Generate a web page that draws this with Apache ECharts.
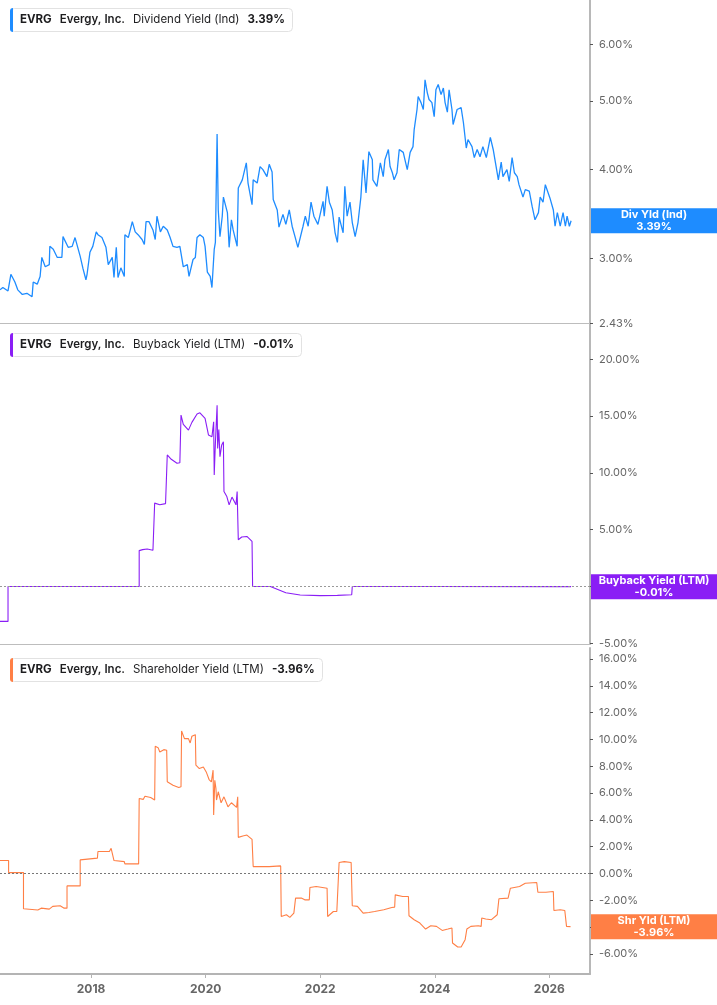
<!DOCTYPE html>
<html>
<head>
<meta charset="utf-8">
<script src="https://cdn.jsdelivr.net/npm/echarts@6/dist/echarts.min.js"></script>
<style>
  html, body { margin: 0; padding: 0; background: #fff; }
  #chart { width: 717px; height: 1005px; }
</style>
</head>
<body>
<div id="chart"></div>
<script>
// x = decimal year, y = percent
const divYield = [
  [2016.41,2.71],[2016.46,2.73],[2016.55,2.70],[2016.60,2.85],[2016.67,2.78],[2016.72,2.71],[2016.80,2.67],
  [2016.88,2.68],[2016.97,2.65],[2016.99,2.78],[2017.06,2.76],[2017.11,2.83],[2017.14,3.01],[2017.20,2.92],
  [2017.27,2.94],[2017.28,3.12],[2017.34,3.09],[2017.41,3.01],[2017.49,3.01],[2017.51,3.22],[2017.60,3.11],
  [2017.67,3.12],[2017.72,3.21],[2017.81,3.02],[2017.86,2.90],[2017.91,2.80],[2017.93,2.85],[2017.98,3.06],
  [2018.03,3.12],[2018.09,3.27],[2018.12,3.24],[2018.19,3.21],[2018.26,3.11],[2018.30,2.94],[2018.37,3.01],
  [2018.40,2.82],[2018.44,3.11],[2018.47,2.82],[2018.52,2.91],[2018.58,2.83],[2018.59,3.24],[2018.65,3.21],
  [2018.72,3.38],[2018.77,3.27],[2018.82,3.24],[2018.89,3.19],[2018.93,3.14],[2018.96,3.38],[2019.01,3.38],
  [2019.08,3.29],[2019.12,3.19],[2019.15,3.44],[2019.21,3.27],[2019.26,3.33],[2019.33,3.29],[2019.38,3.21],
  [2019.43,3.12],[2019.50,3.11],[2019.55,3.12],[2019.61,2.92],[2019.68,2.94],[2019.71,2.83],[2019.78,2.99],
  [2019.82,3.01],[2019.85,3.21],[2019.90,3.24],[2019.96,3.21],[2019.99,3.12],[2020.03,2.87],[2020.08,2.83],
  [2020.11,2.73],[2020.15,3.09],[2020.17,3.16],[2020.20,4.49],[2020.22,3.51],[2020.25,3.22],[2020.29,3.44],
  [2020.31,3.66],[2020.38,3.48],[2020.41,3.11],[2020.45,3.40],[2020.48,3.29],[2020.55,3.12],[2020.57,3.77],
  [2020.64,3.87],[2020.71,4.09],[2020.74,3.83],[2020.81,3.57],[2020.83,3.87],[2020.90,3.83],[2020.95,4.04],
  [2021.00,4.00],[2021.07,3.91],[2021.11,4.07],[2021.16,3.97],[2021.18,3.63],[2021.25,3.51],[2021.28,3.32],
  [2021.35,3.46],[2021.40,3.35],[2021.46,3.51],[2021.51,3.33],[2021.56,3.22],[2021.61,3.11],[2021.70,3.33],
  [2021.74,3.44],[2021.79,3.33],[2021.84,3.60],[2021.89,3.44],[2021.96,3.35],[2022.05,3.61],[2022.07,3.44],
  [2022.12,3.79],[2022.16,3.60],[2022.21,3.51],[2022.26,3.26],[2022.30,3.16],[2022.33,3.43],[2022.40,3.26],
  [2022.43,3.79],[2022.47,3.44],[2022.52,3.60],[2022.56,3.37],[2022.61,3.22],[2022.66,3.37],[2022.71,3.66],
  [2022.75,4.13],[2022.80,3.71],[2022.85,4.24],[2022.91,4.13],[2022.92,3.87],[2022.99,3.79],[2023.05,4.09],
  [2023.10,3.91],[2023.13,4.13],[2023.19,4.27],[2023.22,4.04],[2023.26,3.96],[2023.29,3.87],[2023.34,3.96],
  [2023.38,4.27],[2023.45,4.23],[2023.48,4.13],[2023.52,4.00],[2023.57,4.23],[2023.62,4.31],[2023.64,4.55],
  [2023.69,4.86],[2023.71,5.07],[2023.76,4.97],[2023.80,4.86],[2023.83,5.35],[2023.87,5.13],[2023.90,5.02],
  [2023.95,4.97],[2023.99,4.75],[2024.02,5.18],[2024.06,5.27],[2024.11,5.10],[2024.15,5.21],[2024.18,4.97],
  [2024.22,4.82],[2024.25,5.18],[2024.30,4.86],[2024.32,4.63],[2024.39,4.86],[2024.46,4.89],[2024.50,4.66],
  [2024.55,4.29],[2024.58,4.41],[2024.65,4.31],[2024.69,4.16],[2024.74,4.27],[2024.79,4.17],[2024.84,4.31],
  [2024.90,4.16],[2024.97,4.44],[2025.02,4.27],[2025.06,4.09],[2025.11,3.87],[2025.16,4.10],[2025.19,3.91],
  [2025.26,4.00],[2025.30,3.85],[2025.35,4.16],[2025.39,3.96],[2025.44,3.91],[2025.47,3.81],[2025.54,3.66],
  [2025.58,3.75],[2025.65,3.73],[2025.70,3.55],[2025.75,3.40],[2025.81,3.48],[2025.84,3.66],[2025.89,3.60],
  [2025.93,3.81],[2025.96,3.83],[2026.01,3.65],[2026.07,3.51],[2026.10,3.33],[2026.14,3.48],[2026.19,3.33],
  [2026.24,3.48],[2026.28,3.33],[2026.31,3.44],[2026.35,3.33],[2026.38,3.39]
];

const buybackYield = [
  [2016.41,-3.07],[2016.55,-3.07],[2016.55,0],[2018.84,0],[2018.84,3.16],[2018.90,3.25],[2018.98,3.30],
  [2019.08,3.20],[2019.10,3.10],[2019.11,7.34],[2019.20,7.20],[2019.30,7.30],[2019.33,7.25],[2019.33,11.58],
  [2019.40,11.20],[2019.50,10.85],[2019.55,10.90],[2019.57,15.09],[2019.61,14.27],[2019.70,13.77],
  [2019.76,14.45],[2019.85,15.18],[2019.90,15.29],[2019.99,14.80],[2020.05,13.33],[2020.11,13.19],
  [2020.14,14.50],[2020.15,9.82],[2020.17,12.60],[2020.20,15.96],[2020.21,12.16],[2020.23,13.83],
  [2020.25,11.43],[2020.28,12.46],[2020.31,12.75],[2020.32,8.36],[2020.37,7.92],[2020.41,7.19],
  [2020.46,7.87],[2020.53,7.19],[2020.55,8.36],[2020.57,4.12],[2020.63,4.36],[2020.72,4.41],[2020.81,3.97],
  [2020.82,0],[2021.13,0],[2021.40,-0.55],[2021.65,-0.75],[2022.00,-0.80],[2022.30,-0.78],[2022.55,-0.72],
  [2022.56,0],[2024.00,0],[2026.38,-0.01]
];

const shareholderYield = [
  [2016.41,0.97],[2016.56,0.97],[2016.56,0.07],[2016.82,0.07],[2016.82,-2.63],[2017.07,-2.72],[2017.10,-2.83],
  [2017.13,-2.58],[2017.27,-2.65],[2017.33,-2.45],[2017.46,-2.40],[2017.53,-2.58],[2017.58,-2.58],
  [2017.58,-0.92],[2017.81,-0.92],[2017.81,1.02],[2018.11,1.15],[2018.12,1.64],[2018.32,1.64],[2018.35,1.88],
  [2018.38,1.75],[2018.40,0.97],[2018.58,0.89],[2018.59,0.72],[2018.83,0.72],[2018.84,5.60],[2018.91,5.53],
  [2018.94,5.77],[2019.04,5.67],[2019.11,5.48],[2019.12,9.49],[2019.17,9.39],[2019.20,9.07],[2019.27,9.24],
  [2019.32,9.19],[2019.33,6.84],[2019.43,6.59],[2019.53,6.42],[2019.57,6.47],[2019.58,10.63],[2019.63,10.06],
  [2019.70,10.06],[2019.73,9.74],[2019.76,10.24],[2019.82,10.36],[2019.83,8.08],[2019.89,7.83],[2019.96,7.95],
  [2020.01,7.58],[2020.06,7.01],[2020.10,6.84],[2020.13,7.71],[2020.14,4.36],[2020.16,6.96],[2020.18,6.34],
  [2020.19,5.48],[2020.22,6.10],[2020.27,5.28],[2020.32,5.72],[2020.39,4.98],[2020.45,5.28],[2020.54,4.93],
  [2020.56,5.72],[2020.57,2.70],[2020.65,2.80],[2020.72,2.87],[2020.81,2.55],[2020.83,0.52],[2021.11,0.52],
  [2021.14,0.64],[2021.31,0.57],[2021.32,-3.20],[2021.41,-3.07],[2021.47,-3.27],[2021.54,-2.95],
  [2021.57,-1.83],[2021.67,-1.83],[2021.73,-1.96],[2021.81,-1.96],[2021.82,-1.04],[2021.93,-0.97],
  [2022.12,-1.09],[2022.13,-3.20],[2022.23,-2.83],[2022.29,-2.83],[2022.31,-2.90],[2022.33,0.82],
  [2022.42,0.89],[2022.54,0.82],[2022.56,-2.40],[2022.65,-2.45],[2022.75,-2.95],[2022.85,-2.90],
  [2022.95,-2.83],[2023.11,-2.70],[2023.25,-2.53],[2023.30,-2.50],[2023.31,-1.59],[2023.44,-1.71],
  [2023.54,-1.71],[2023.55,-3.15],[2023.64,-3.44],[2023.74,-3.69],[2023.84,-4.14],[2023.93,-3.89],
  [2024.03,-3.94],[2024.13,-4.24],[2024.23,-4.14],[2024.30,-4.06],[2024.31,-5.18],[2024.40,-5.48],
  [2024.46,-5.48],[2024.53,-4.93],[2024.56,-4.14],[2024.63,-3.94],[2024.76,-3.89],[2024.81,-3.94],
  [2024.82,-3.32],[2024.89,-3.39],[2024.99,-3.44],[2025.09,-3.07],[2025.12,-1.88],[2025.28,-1.83],
  [2025.32,-1.09],[2025.48,-0.97],[2025.58,-0.72],[2025.78,-0.67],[2025.80,-1.39],[2025.94,-1.39],
  [2026.07,-1.34],[2026.08,-2.75],[2026.19,-2.70],[2026.27,-2.75],[2026.30,-3.94],[2026.37,-3.96]
];

const yearTicks = [2018, 2020, 2022, 2024, 2026];
const divTicks = [2.43, 3, 4, 5, 6];
const buybackTicks = [-5, 0, 5, 10, 15, 20];
const shareholderTicks = [-6, -4, -2, 0, 2, 4, 6, 8, 10, 12, 14, 16];

const BLUE = '#1e8cff';
const PURPLE = '#8a1ef5';
const ORANGE = '#ff7f45';
const FONT = 'Inter';

const last = arr => arr[arr.length - 1][1];
const pct = v => v.toFixed(2) + '%';

let chart = echarts.init(document.getElementById('chart'));

function legendTitle(top, color, label, value) {
  const txt = (weight, pad) => ({ fontFamily: FONT, fontSize: 11.5, fontWeight: weight, color: '#1d1d1f', padding: [0, 0, 0, pad] });
  return {
    left: 10,
    top: top,
    padding: [0, 8, 0, 0],
    backgroundColor: '#fff',
    borderColor: '#e2e2e2',
    borderWidth: 1,
    borderRadius: 4,
    text: '{bar|}{k|EVRG}{n|Evergy, Inc.}{d|' + label + '}{v|' + value + '}',
    textStyle: {
      fontFamily: FONT,
      fontSize: 11.5,
      rich: {
        bar: { width: 3, height: 24, backgroundColor: color, borderRadius: [3, 0, 0, 3] },
        k: txt('bold', 7),
        n: txt(600, 8),
        d: txt('normal', 8),
        v: txt('bold', 8)
      }
    }
  };
}

function xAxisOf(gridIndex, showLabels) {
  return {
    type: 'value',
    gridIndex: gridIndex,
    min: 2016.41,
    max: 2026.71,
    axisLine: { show: true, onZero: false, lineStyle: { color: showLabels ? '#b4b4b4' : '#bdbdbd', width: showLabels ? 2 : 1 } },
    axisTick: { show: showLabels, customValues: yearTicks, length: 4, lineStyle: { color: '#b4b4b4' } },
    axisLabel: {
      show: showLabels,
      customValues: yearTicks,
      formatter: v => String(v),
      color: '#666',
      fontFamily: FONT,
      fontSize: 12,
      fontWeight: 'bold',
      margin: 9
    },
    splitLine: { show: false }
  };
}

function yAxisOf(gridIndex, min, max, ticks, fmt) {
  return {
    type: 'value',
    gridIndex: gridIndex,
    position: 'right',
    min: min,
    max: max,
    axisLine: { show: true, lineStyle: { color: '#b8b8b8', width: 2 } },
    axisTick: { show: true, customValues: ticks, length: 3, lineStyle: { color: '#555' } },
    axisLabel: {
      customValues: ticks,
      formatter: fmt,
      color: '#666',
      fontFamily: FONT,
      fontSize: 11,
      margin: 9
    },
    splitLine: { show: false }
  };
}

const zeroLine = color => ({
  silent: true,
  symbol: 'none',
  label: { show: false },
  lineStyle: { color: color, type: [2, 2], width: 1.2 },
  data: [{ yAxis: 0 }]
});

let option = {
  animation: false,
  backgroundColor: '#fff',
  title: [
    legendTitle(8, BLUE, 'Dividend Yield (Ind)', pct(last(divYield))),
    legendTitle(333, PURPLE, 'Buyback Yield (LTM)', pct(last(buybackYield))),
    legendTitle(658, ORANGE, 'Shareholder Yield (LTM)', pct(last(shareholderYield)))
  ],
  grid: [
    { left: 0, right: 127, top: 0, height: 323.5 },
    { left: 0, right: 127, top: 324, height: 320 },
    { left: 0, right: 127, top: 648, height: 326 }
  ],
  xAxis: [xAxisOf(0, false), xAxisOf(1, false), xAxisOf(2, true)],
  yAxis: [
    // dividend yield is drawn on a log scale: ln of the value is plotted
    yAxisOf(0, Math.log(2.43), Math.log(6.93), divTicks.map(Math.log), v => pct(Math.exp(v))),
    yAxisOf(1, -5.06, 23.11, buybackTicks, v => pct(v)),
    yAxisOf(2, -7.49, 16.82, shareholderTicks, v => pct(v))
  ],
  series: [
    {
      type: 'line',
      xAxisIndex: 0,
      yAxisIndex: 0,
      showSymbol: false,
      data: divYield.map(d => [d[0], Math.log(d[1])]),
      lineStyle: { color: BLUE, width: 1.3 },
      itemStyle: { color: BLUE }
    },
    {
      type: 'line',
      xAxisIndex: 1,
      yAxisIndex: 1,
      showSymbol: false,
      data: buybackYield,
      lineStyle: { color: PURPLE, width: 1.1 },
      itemStyle: { color: PURPLE },
      markLine: zeroLine('#999')
    },
    {
      type: 'line',
      xAxisIndex: 2,
      yAxisIndex: 2,
      showSymbol: false,
      data: shareholderYield,
      lineStyle: { color: ORANGE, width: 1.1 },
      itemStyle: { color: ORANGE },
      markLine: zeroLine('#777')
    }
  ]
};

chart.setOption(option);

// value badges on the right axis, placed through the y scales
function badge(yAxisIndex, value, color, name, text) {
  let y = chart.convertToPixel({ yAxisIndex: yAxisIndex }, value);
  return {
    type: 'group',
    x: 591,
    y: y - 12.5,
    children: [
      { type: 'rect', z: 200, shape: { x: 0, y: 0, width: 126, height: 25 }, style: { fill: color } },
      {
        type: 'text',
        z: 201,
        x: 63,
        y: 12.5,
        style: {
          text: name + '\n' + text,
          fill: '#fff',
          font: 'bold 11px Inter',
          align: 'center',
          verticalAlign: 'middle',
          lineHeight: 11.5
        }
      }
    ]
  };
}

chart.setOption({
  graphic: {
    elements: [
      badge(0, Math.log(last(divYield)), BLUE, 'Div Yld (Ind)', pct(last(divYield))),
      badge(1, last(buybackYield), PURPLE, 'Buyback Yield (LTM)', pct(last(buybackYield))),
      badge(2, last(shareholderYield), ORANGE, 'Shr Yld (LTM)', pct(last(shareholderYield)))
    ]
  }
});
</script>
</body>
</html>
